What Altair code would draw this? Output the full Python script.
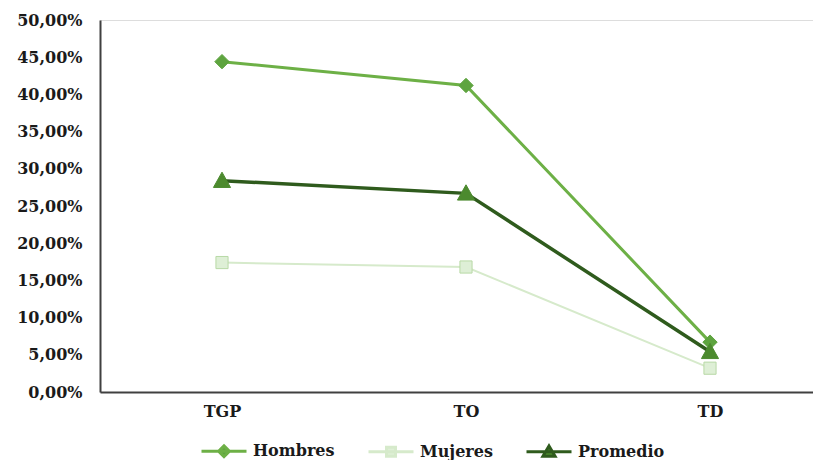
import altair as alt
import pandas as pd

categorias = ["TGP", "TO", "TD"]
series = ["Hombres", "Mujeres", "Promedio"]
hombres = [0.444, 0.412, 0.067]
mujeres = [0.174, 0.168, 0.032]
promedio = [0.284, 0.267, 0.054]
y_ticks = [0.0, 0.05, 0.10, 0.15, 0.20, 0.25, 0.30, 0.35, 0.40, 0.45, 0.50]

line_colors = ["#6db046", "#d6eacb", "#2f5b1d"]
fill_colors = ["#5ea43f", "#deefd6", "#4c8a2e"]
stroke_colors = ["#5ea43f", "#b8d9a6", "#4c8a2e"]
line_widths = [3, 2, 3.5]
shapes = [
    "M0,-0.32L0.32,0L0,0.32L-0.32,0Z",
    "M-0.27,-0.27H0.27V0.27H-0.27Z",
    "M0,-0.38L0.38,0.3H-0.38Z",
]
legend_shapes = [
    "M-1,0H1M0,-0.24L0.24,0L0,0.24L-0.24,0Z",
    "M-1,0H1M-0.2,-0.2H0.2V0.2H-0.2Z",
    "M-1,0H1M0,-0.26L0.27,0.2H-0.27Z",
]

rows = []
for s, vals in zip(series, [hombres, mujeres, promedio]):
    for c, v in zip(categorias, vals):
        rows.append({"cat": c, "serie": s, "serie2": s, "serie3": s, "valor": v})
df = pd.DataFrame(rows)

FONT = "DejaVu Serif"

x_enc = alt.X("cat:N", sort=categorias, title=None,
              scale=alt.Scale(type="point", range=[0, 732], padding=0.5),
              axis=alt.Axis(labelAngle=0, ticks=False, grid=False, domainColor="#404040",
                            domainWidth=2, labelFont=FONT, labelFontWeight="bold",
                            labelFontSize=16, labelColor="#1a1a1a", labelPadding=11))
y_enc = alt.Y("valor:Q", title=None,
              scale=alt.Scale(domain=[0, 0.5], nice=False),
              axis=alt.Axis(values=y_ticks, ticks=False, grid=False, domainColor="#404040",
                            domainWidth=2, labelFont=FONT, labelFontWeight="bold",
                            labelFontSize=16, labelColor="#1a1a1a", labelPadding=18,
                            labelExpr="replace(format(datum.value, '.2%'), '.', ',')"))

lines = alt.Chart(df).mark_line().encode(
    x=x_enc,
    y=y_enc,
    color=alt.Color("serie:N", scale=alt.Scale(domain=series, range=line_colors), legend=None),
    strokeWidth=alt.StrokeWidth("serie:N",
                                scale=alt.Scale(type="ordinal", domain=series, range=line_widths),
                                legend=None),
)

points = alt.Chart(df).mark_point(filled=True, size=2025, opacity=1, strokeWidth=1).encode(
    x=x_enc,
    y=y_enc,
    shape=alt.Shape("serie2:N", scale=alt.Scale(domain=series, range=shapes), legend=None),
    fill=alt.Fill("serie2:N", scale=alt.Scale(domain=series, range=fill_colors), legend=None),
    stroke=alt.Stroke("serie2:N", scale=alt.Scale(domain=series, range=stroke_colors), legend=None),
)

legend_common = dict(orient="none", legendX=100, legendY=407, direction="horizontal",
                     title=None, symbolSize=2025, symbolStrokeWidth=3, labelFont=FONT,
                     labelFontWeight="bold", labelFontSize=16, labelColor="#1a1a1a",
                     columnPadding=27, labelOffset=5, padding=0)

legend_layer = alt.Chart(df).transform_filter("false").mark_point(
    filled=True, size=2025, opacity=1
).encode(
    x=x_enc,
    y=y_enc,
    shape=alt.Shape("serie3:N", scale=alt.Scale(domain=series, range=legend_shapes),
                    legend=alt.Legend(**legend_common)),
    fill=alt.Fill("serie3:N", scale=alt.Scale(domain=series, range=fill_colors),
                  legend=alt.Legend(**legend_common)),
    stroke=alt.Stroke("serie3:N", scale=alt.Scale(domain=series, range=line_colors),
                      legend=alt.Legend(**legend_common)),
)

chart = alt.layer(lines, points, legend_layer).resolve_scale(
    shape="independent", fill="independent", stroke="independent"
).properties(
    width=713,
    height=372,
    autosize=alt.AutoSizeParams(type="none"),
    padding={"left": 92, "top": 12, "right": 0, "bottom": 68},
).configure_view(stroke=None).configure(background="white")

chart.save("out.html", embed_options={"renderer": "svg", "actions": False})
